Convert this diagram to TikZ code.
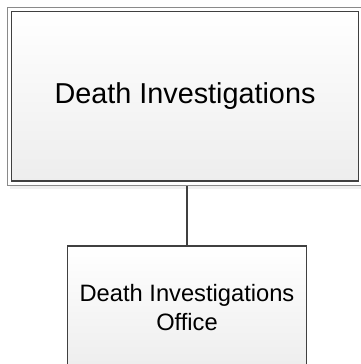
\documentclass[tikz,border=0pt]{standalone}
\usepackage{fontspec}
\setmainfont{Liberation Sans}
\usepackage{tikz}
\usetikzlibrary{shadows}
\definecolor{edge}{HTML}{404040}
\definecolor{frameline}{HTML}{8A8A8A}

\tikzset{
  unitbox/.style={draw=edge,line width=1.3pt,inner sep=0pt,top color=white,bottom color=black!7,align=center},
}

\begin{document}
\begin{tikzpicture}[x=1pt,y=-1pt]
\useasboundingbox (0,0) rectangle (360,364);
% unit and its office
\node[draw=frameline,line width=1.3pt,fill=white,minimum width=354.5pt,minimum height=178pt,
  drop shadow={opacity=.12,shadow xshift=2.5pt,shadow yshift=-3.5pt}] (frame) at (184.75,96.5){};
\node[unitbox,minimum width=347pt,minimum height=169.5pt,font=\fontsize{28.8}{34}\selectfont] (unit) at (185,96.25){Death Investigations};
\node[unitbox,minimum width=239pt,minimum height=124pt,font=\fontsize{23.7}{29}\selectfont] (office) at (187,308){Death Investigations\\Office};
\draw[edge,line width=1.3pt] (frame.south -| office.north) -- (office.north);
\end{tikzpicture}
\end{document}
